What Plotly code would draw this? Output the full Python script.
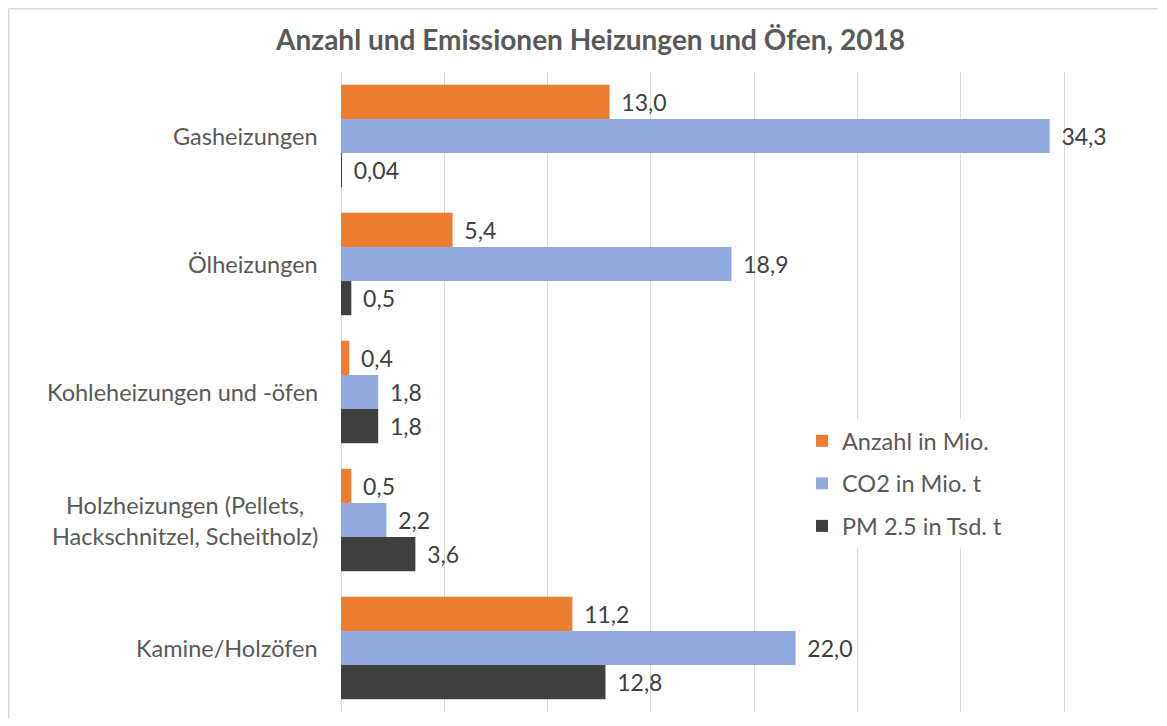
import plotly.graph_objects as go

categories = [
    "Gasheizungen",
    "Ölheizungen",
    "Kohleheizungen und -öfen",
    "Holzheizungen (Pellets,<br>Hackschnitzel, Scheitholz)",
    "Kamine/Holzöfen",
]
series_names = ["Anzahl in Mio.", "CO2 in Mio. t", "PM 2.5 in Tsd. t"]
anzahl = [13.0, 5.4, 0.4, 0.5, 11.2]
co2 = [34.3, 18.9, 1.8, 2.2, 22.0]
pm25 = [0.04, 0.5, 1.8, 3.6, 12.8]
colors = ["#ED7D31", "#8FAADC", "#404040"]
title = "Anzahl und Emissionen Heizungen und Öfen, 2018"

OFF = 8  # page body margin
W, H = 1151, 710
L, R, T, B = 333, 0, 64, 6
PW, PH = W - L - R, H - T - B
FONT = "Lato"


def fmt(v):
    s = f"{v:.2f}" if v < 0.1 else f"{v:.1f}"
    return "\u00a0\u2009" + s.replace(".", ",")


def px_x(p):  # page pixel -> paper x
    return (p - OFF - L) / PW


def px_y(p):  # page pixel -> paper y
    return (H - B - (p - OFF)) / PH


fig = go.Figure()
for name, vals, col in zip(series_names, [anzahl, co2, pm25], colors):
    fig.add_trace(go.Bar(
        y=categories, x=vals, orientation="h", name=name,
        marker=dict(color=col, line=dict(width=0)),
        text=[fmt(v) for v in vals], textposition="outside",
        textfont=dict(family=FONT, size=23, color="#404040"),
        cliponaxis=False, legendgroup=name,
    ))

for c in categories:
    fig.add_annotation(
        x=px_x(320), xref="paper", y=c, yref="y", text=c, showarrow=False,
        xanchor="right", align="center",
        font=dict(family=FONT, size=23.5, color="#595959"),
    )

border = dict(color="#D9D9D9", width=1.5)
fig.add_shape(type="line", xref="paper", yref="paper",
              x0=px_x(8.75), x1=px_x(8.75), y0=px_y(718), y1=px_y(8.75),
              line=border, layer="below")
fig.add_shape(type="line", xref="paper", yref="paper",
              x0=px_x(8.75), x1=px_x(1158), y0=px_y(8.75), y1=px_y(8.75),
              line=border, layer="below")

fig.update_layout(
    width=W, height=H,
    margin=dict(l=L, r=R, t=T, b=B, pad=0),
    paper_bgcolor="white", plot_bgcolor="white",
    barmode="group", bargap=0.2, bargroupgap=0,
    title=dict(text=f"<b>{title}</b>", x=(590.5 - OFF) / W, xanchor="center",
               y=1 - (40 - OFF) / H, yanchor="middle",
               font=dict(family=FONT, size=28, color="#595959")),
    xaxis=dict(range=[0, PW / 20.66], dtick=5, showgrid=True, gridcolor="#D9D9D9",
               gridwidth=1, zeroline=True, zerolinecolor="#D9D9D9",
               zerolinewidth=1, showticklabels=False, ticks="",
               showline=False, fixedrange=True),
    yaxis=dict(autorange="reversed", showticklabels=False, ticks="",
               showgrid=False, showline=False),
    legend=dict(x=px_x(802), y=px_y(419), xanchor="left", yanchor="top",
                bgcolor="white", tracegroupgap=9,
                font=dict(family=FONT, size=23.5, color="#595959")),
    showlegend=True,
)

fig.write_html("out.html")
